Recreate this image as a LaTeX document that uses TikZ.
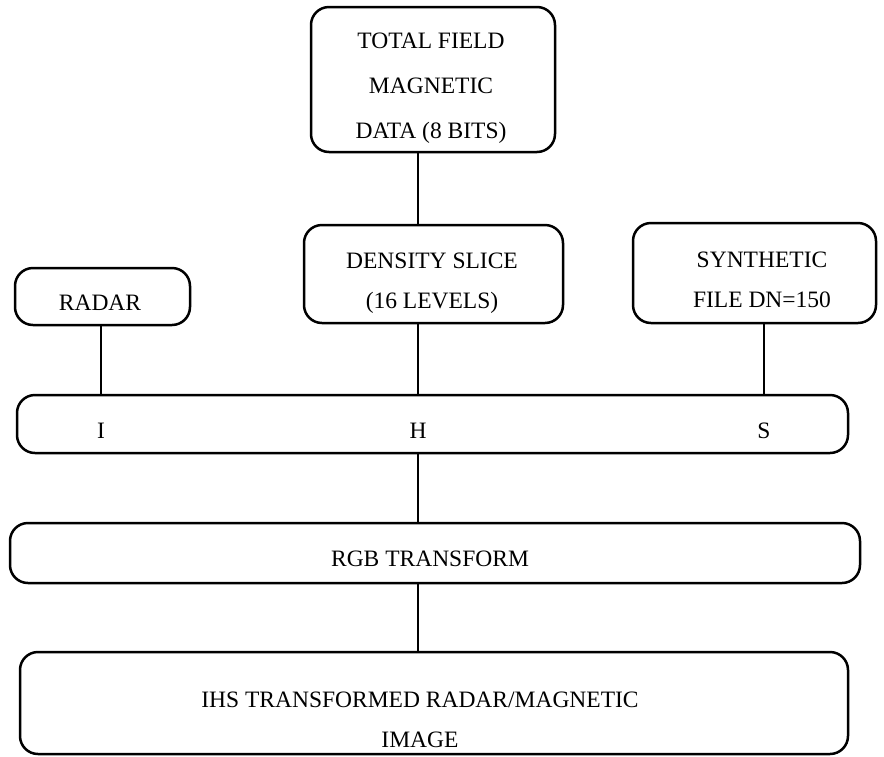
\documentclass[tikz,border=0pt]{standalone}
\usepackage{fontspec}
\setmainfont{Liberation Serif}
\begin{document}
\begin{tikzpicture}[x=1pt,y=-1pt,
  box/.style={draw=black,line width=2.5pt,rounded corners=18pt,inner sep=0pt},
  conn/.style={draw=black,line width=1.4pt},
  txt/.style={inner sep=0pt,align=center,font=\fontsize{23.5}{45}\selectfont},
  txt2/.style={inner sep=0pt,align=center,font=\fontsize{23.5}{40}\selectfont}]
\useasboundingbox (0,0) rectangle (884,756);
\node[box,minimum width=244pt,minimum height=145pt] (top) at (433,79.5) {};
\node[box,minimum width=259pt,minimum height=98pt] (dens) at (433.5,274) {};
\node[box,minimum width=175pt,minimum height=57pt] (radar) at (102.5,296.5) {};
\node[box,minimum width=243pt,minimum height=100pt] (syn) at (754.5,273) {};
\node[box,minimum width=831pt,minimum height=58pt] (ihs) at (432.5,424) {};
\node[box,minimum width=850pt,minimum height=60pt] (rgb) at (435,553) {};
\node[box,minimum width=828pt,minimum height=102pt] (out) at (434,703) {};
\node[txt] (topt) at (431,88) {TOTAL FIELD\\MAGNETIC\\DATA (8 BITS)};
\node[txt2] (denst) at (432,283) {DENSITY SLICE\\(16 LEVELS)};
\node[txt2] (radart) at (100,303) {RADAR};
\node[txt2] (synt) at (762,280) {SYNTHETIC\\FILE DN=150};
\node[txt2] (rgbt) at (430,559) {RGB TRANSFORM};
\node[txt2] (outt) at (420,720) {IHS TRANSFORMED RADAR/MAGNETIC\\IMAGE};
\node[txt2] (li) at (101,431) {I};
\node[txt2] (lh) at (418,431) {H};
\node[txt2] (ls) at (764,431) {S};
\coordinate (sp) at (418,0);
\coordinate (sr) at (101,0);
\coordinate (ss) at (764,0);
\draw[conn] (top.south -| sp) -- (dens.north -| sp);
\draw[conn] (dens.south -| sp) -- (ihs.north -| sp);
\draw[conn] (radar.south -| sr) -- (ihs.north -| sr);
\draw[conn] (syn.south -| ss) -- (ihs.north -| ss);
\draw[conn] (ihs.south -| sp) -- (rgb.north -| sp);
\draw[conn] (rgb.south -| sp) -- (out.north -| sp);
\end{tikzpicture}
\end{document}
